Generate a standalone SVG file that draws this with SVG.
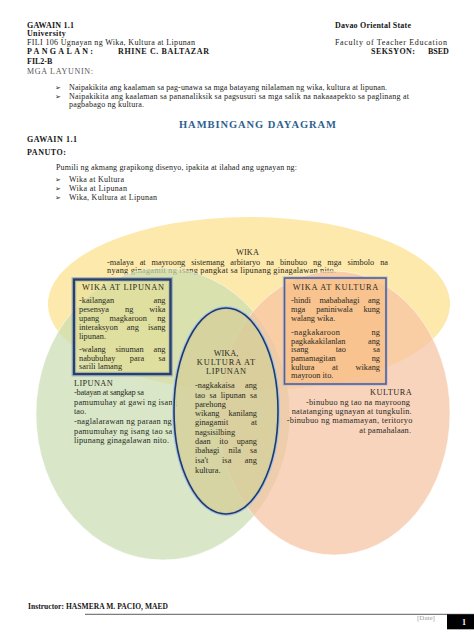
<svg xmlns="http://www.w3.org/2000/svg" width="474" height="632" viewBox="0 0 474 632">
<style>
.h{font-family:"Liberation Serif",serif;font-weight:bold;font-size:8px;fill:#151515}
.r{font-family:"Liberation Serif",serif;font-size:8px;fill:#222}
.t{font-family:"Liberation Serif",serif;font-size:8.3px;fill:#2a2a22}
.ar{font-family:"DejaVu Sans",sans-serif;font-size:7px;fill:#222}
.e{text-anchor:end}
.m{text-anchor:middle}
</style>
<rect width="474" height="632" fill="#ffffff"/>

<g id="header">
<text class="h" x="27" y="28" textLength="47" lengthAdjust="spacing">GAWAIN 1.1</text>
<text class="h" x="27" y="36" textLength="38.7" lengthAdjust="spacing">University</text>
<text class="r" x="27" y="45" textLength="168" lengthAdjust="spacing">FILI 106 Ugnayan ng Wika, Kultura at Lipunan</text>
<text class="h" x="27" y="54" textLength="66" lengthAdjust="spacing">PANGALAN:</text>
<text class="h" x="118" y="54" textLength="91" lengthAdjust="spacing">RHINE C. BALTAZAR</text>
<text class="h" x="27" y="63.5">FIL2-B</text>
<text class="h" x="335" y="28" textLength="76" lengthAdjust="spacing">Davao Oriental State</text>
<text class="r" x="335" y="45" textLength="112" lengthAdjust="spacing">Faculty of Teacher Education</text>
<text class="h" x="371" y="54" textLength="44" lengthAdjust="spacing">SEKSYON:</text>
<text class="h" x="428" y="54">BSED</text>
<text class="r" x="27" y="74" textLength="66" lengthAdjust="spacing" style="fill:#555">MGA LAYUNIN:</text>
</g>

<g id="objectives">
<text class="ar" x="55" y="90">➢</text>
<text class="r" x="69" y="90" textLength="318" lengthAdjust="spacing">Naipakikita ang kaalaman sa pag-unawa sa mga batayang nilalaman ng wika, kultura at lipunan.</text>
<text class="ar" x="55" y="98.5">➢</text>
<text class="r" x="69" y="98.5" textLength="340" lengthAdjust="spacing">Naipakikita ang kaalaman sa pananaliksik sa pagsusuri sa mga salik na nakaaapekto sa paglinang at</text>
<text class="r" x="69" y="107" textLength="75" lengthAdjust="spacing">pagbabago ng kultura.</text>
</g>

<g id="title">
<text x="179" y="128" textLength="157" lengthAdjust="spacing" style="font-family:'Liberation Serif',serif;font-weight:bold;font-size:10.5px;fill:#2f5f8f">HAMBINGANG DAYAGRAM</text>
<text class="h" x="27" y="142" textLength="50" lengthAdjust="spacing">GAWAIN 1.1</text>
<text class="h" x="27" y="155" textLength="39" lengthAdjust="spacing">PANUTO:</text>
<text class="r" x="56" y="170" textLength="241" lengthAdjust="spacing">Pumili ng akmang grapikong disenyo, ipakita at ilahad ang ugnayan ng:</text>
<text class="ar" x="55" y="182">➢</text>
<text class="r" x="69" y="182" textLength="55" lengthAdjust="spacing">Wika at Kultura</text>
<text class="ar" x="55" y="191">➢</text>
<text class="r" x="69" y="191" textLength="58" lengthAdjust="spacing">Wika at Lipunan</text>
<text class="ar" x="55" y="199.5">➢</text>
<text class="r" x="69" y="199.5" textLength="88" lengthAdjust="spacing">Wika, Kultura at Lipunan</text>
</g>

<g id="wika">
<ellipse cx="249" cy="304" rx="201" ry="87" fill="#fde9ab"/>
<text class="t m" x="247.5" y="255" textLength="23" lengthAdjust="spacing">WIKA</text>
<text class="t" x="107" y="265" textLength="281" lengthAdjust="spacing" style="word-spacing:3.85px">-malaya at mayroong sistemang arbitaryo na binubuo ng mga simbolo na</text>
<text class="t" x="107" y="272.5" textLength="229" lengthAdjust="spacing">nyang ginagamit ng isang pangkat sa lipunang ginagalawan nito.</text>
</g>

<g id="lipunan">
<ellipse cx="163" cy="414" rx="127" ry="146" fill="#c9ddb0" fill-opacity="0.7" stroke="#ffffff" stroke-opacity="0.5"/>
</g>

<g id="kultura">
<ellipse cx="334" cy="413" rx="116" ry="142" fill="#f6c2a1" fill-opacity="0.7" stroke="#ffffff" stroke-opacity="0.5"/>
</g>

<g id="lipunan-text">
<text class="t" x="74" y="385.5" textLength="38.7" lengthAdjust="spacing">LIPUNAN</text>
<text class="t" x="74" y="394.5" textLength="70" lengthAdjust="spacing">-batayan at sangkap sa</text>
<text class="t" x="74" y="405" textLength="103" lengthAdjust="spacing">pamumuhay at gawi ng isang</text>
<text class="t" x="74" y="413.5">tao.</text>
<text class="t" x="74" y="423.5" textLength="97.7" lengthAdjust="spacing">-naglalarawan ng paraan ng</text>
<text class="t" x="74" y="433.5" textLength="98.3" lengthAdjust="spacing">pamumuhay ng isang tao sa</text>
<text class="t" x="74" y="442.5" textLength="95" lengthAdjust="spacing">lipunang ginagalawan nito.</text>
</g>

<g id="kultura-text">
<text class="t e" x="411.7" y="395" textLength="41.7" lengthAdjust="spacing">KULTURA</text>
<text class="t e" x="410" y="405" textLength="104" lengthAdjust="spacing">-binubuo ng tao na mayroong</text>
<text class="t e" x="411.7" y="414" textLength="120" lengthAdjust="spacing">natatanging ugnayan at tungkulin.</text>
<text class="t e" x="412.3" y="423" textLength="125.6" lengthAdjust="spacing">-binubuo ng mamamayan, teritoryo</text>
<text class="t e" x="411" y="433" textLength="51.7" lengthAdjust="spacing">at pamahalaan.</text>
</g>

<g id="wika-at-lipunan">
<rect x="74" y="279.5" width="96.5" height="94.5" fill="none" stroke="#8092b8" stroke-width="5" stroke-opacity="0.55"/>
<rect x="74" y="279.5" width="96.5" height="94.5" fill="#e3de94" fill-opacity="0.55" stroke="#25406e" stroke-width="2.4"/>
<text class="t" x="82" y="290" textLength="82" lengthAdjust="spacing">WIKA AT LIPUNAN</text>
<text class="t" x="79" y="303" textLength="86.5" lengthAdjust="spacing" style="word-spacing:37.4px">-kailangan ang</text>
<text class="t" x="79" y="312" textLength="86.5" lengthAdjust="spacing" style="word-spacing:14px">pesensya ng wika</text>
<text class="t" x="79" y="320.5" textLength="86.5" lengthAdjust="spacing" style="word-spacing:8.25px">upang magkaroon ng</text>
<text class="t" x="79" y="330" textLength="86.5" lengthAdjust="spacing" style="word-spacing:7px">interaksyon ang isang</text>
<text class="t" x="79" y="338.5">lipunan.</text>
<text class="t" x="79" y="352" textLength="86.5" lengthAdjust="spacing" style="word-spacing:7.75px">-walang sinuman ang</text>
<text class="t" x="79" y="360.5" textLength="86.5" lengthAdjust="spacing" style="word-spacing:12.4px">nabubuhay para sa</text>
<text class="t" x="79" y="368.5">sarili lamang</text>
</g>

<g id="wika-at-kultura">
<rect x="284.5" y="278" width="101.5" height="106" fill="none" stroke="#a8b4d8" stroke-width="3.5" stroke-opacity="0.6"/>
<rect x="284.5" y="278" width="101.5" height="106" fill="#f7bf88" fill-opacity="0.75" stroke="#50609a" stroke-width="1.6"/>
<text class="t" x="292.7" y="290" textLength="85.6" lengthAdjust="spacing">WIKA AT KULTURA</text>
<text class="t" x="291" y="303" textLength="89" lengthAdjust="spacing" style="word-spacing:6.5px">-hindi mababahagi ang</text>
<text class="t" x="291" y="312" textLength="89" lengthAdjust="spacing" style="word-spacing:8.75px">mga paniniwala kung</text>
<text class="t" x="291" y="321">walang wika.</text>
<text class="t" x="291" y="335" textLength="89" lengthAdjust="spacing" style="word-spacing:28.8px">-nagkakaroon ng</text>
<text class="t" x="291" y="343.5" textLength="89" lengthAdjust="spacing" style="word-spacing:20.5px">pagkakakilanlan ang</text>
<text class="t" x="291" y="352" textLength="89" lengthAdjust="spacing" style="word-spacing:25.15px">isang tao sa</text>
<text class="t" x="291" y="361" textLength="89" lengthAdjust="spacing" style="word-spacing:33.9px">pamamagitan ng</text>
<text class="t" x="291" y="369.5" textLength="89" lengthAdjust="spacing" style="word-spacing:15.45px">kultura at wikang</text>
<text class="t" x="291" y="378">mayroon ito.</text>
</g>

<g id="wika-kultura-lipunan">
<ellipse cx="226" cy="411" rx="52" ry="103" fill="none" stroke="#a9c4e4" stroke-width="4"/>
<ellipse cx="226" cy="411" rx="52" ry="103" fill="#d4d09a" fill-opacity="0.8" stroke="#1f3a68" stroke-width="1.6"/>
<text class="t m" x="226" y="356">WIKA,</text>
<text class="t m" x="226" y="365" textLength="58.3" lengthAdjust="spacing">KULTURA AT</text>
<text class="t m" x="226" y="374" textLength="40" lengthAdjust="spacing">LIPUNAN</text>
<text class="t" x="195" y="388" textLength="62" lengthAdjust="spacing" style="word-spacing:8.3px">-nagkakaisa ang</text>
<text class="t" x="195" y="398" textLength="62" lengthAdjust="spacing" style="word-spacing:2.3px">tao sa lipunan sa</text>
<text class="t" x="195" y="407">parehong</text>
<text class="t" x="195" y="416" textLength="62" lengthAdjust="spacing" style="word-spacing:6.9px">wikang kanilang</text>
<text class="t" x="195" y="425" textLength="62" lengthAdjust="spacing" style="word-spacing:20.7px">ginagamit at</text>
<text class="t" x="195" y="435">nagsisilbing</text>
<text class="t" x="195" y="444" textLength="62" lengthAdjust="spacing" style="word-spacing:6.55px">daan ito upang</text>
<text class="t" x="195" y="453" textLength="62" lengthAdjust="spacing" style="word-spacing:7.05px">ibahagi nila sa</text>
<text class="t" x="195" y="463" textLength="62" lengthAdjust="spacing" style="word-spacing:11.2px">isa't isa ang</text>
<text class="t" x="195" y="472.5">kultura.</text>
</g>

<g id="connectors"></g>

<g id="footer">
<text class="h" x="28" y="608.5" textLength="140" lengthAdjust="spacing" style="font-size:7.5px">Instructor: HASMERA M. PACIO, MAED</text>
<line x1="85" y1="614.3" x2="474" y2="614.3" stroke="#333" stroke-width="0.8"/>
<text class="r" x="417" y="620" style="font-size:7px;fill:#9a9a9a">[Date]</text>
<rect x="447" y="614.3" width="27" height="15" fill="#000"/>
<text x="462" y="625" style="font-family:'Liberation Serif',serif;font-weight:bold;font-size:8px;fill:#fff">1</text>
</g>
</svg>
